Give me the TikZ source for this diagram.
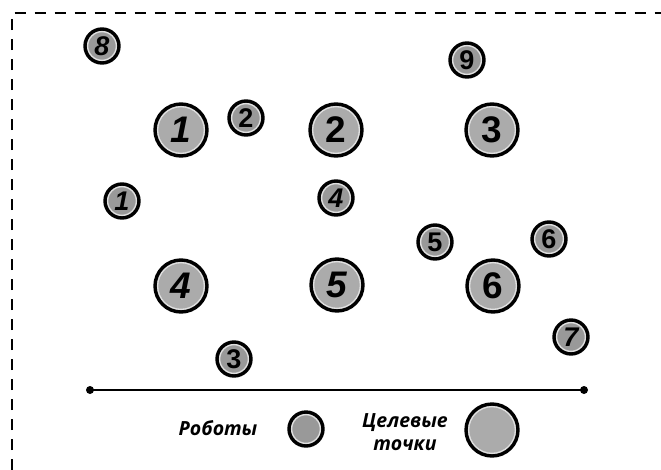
\documentclass[tikz,border=0pt]{standalone}
\usepackage{fontspec}
\setmainfont{Liberation Sans}
\newfontfamily\legendfont{Open Sans}
\begin{document}
\begin{tikzpicture}[x=1pt,y=-1pt,
  robotfill/.style={fill=black!40},
  goalfill/.style={fill=black!33},
  robot/.style={circle,draw=black,line width=3.4pt,robotfill,minimum size=34pt,inner sep=0pt,
    font=\bfseries\fontsize{27}{27}\selectfont,
    path picture={\draw[black!12,line width=1.4pt] (path picture bounding box.center) circle (14.4pt);}},
  goal/.style={circle,draw=black,line width=3.4pt,goalfill,minimum size=52pt,inner sep=0pt,
    font=\bfseries\fontsize{37}{37}\selectfont,
    path picture={\draw[black!12,line width=1.4pt] (path picture bounding box.center) circle (23.4pt);}},
  frameline/.style={line width=2pt,dash pattern=on 11pt off 9pt},
  baseline/.style={line width=2.4pt},
  enddot/.style={circle,fill=black,inner sep=0pt,minimum size=8pt},
  legendtext/.style={font=\legendfont\bfseries\itshape\fontsize{19.5}{23}\selectfont,align=center,inner sep=0pt}
]
\useasboundingbox (0,0) rectangle (661,469);

% dashed frame (continues past the right and bottom edges)
\begin{scope}
\clip (0,0) rectangle (661,469);
\draw[frameline] (11.5,490) -- (11.5,13) -- (680,13);
\end{scope}

% target points
\node[goal] (g1) at (181,130) {\itshape 1};
\node[goal] (g2) at (336,130) {2};
\node[goal] (g3) at (492,130) {3};
\node[goal] (g4) at (181,286) {\itshape 4};
\node[goal] (g5) at (337,285) {\itshape 5};
\node[goal] (g6) at (493,286) {6};

% robots
\node[robot] (r1) at (122,201) {\itshape 1};
\node[robot] (r2) at (246,118) {2};
\node[robot] (r3) at (234,359) {3};
\node[robot] (r4) at (336,198) {\itshape 4};
\node[robot] (r5) at (435,242) {5};
\node[robot] (r6) at (549,239) {6};
\node[robot] (r7) at (571,337) {\itshape 7};
\node[robot] (r8) at (102,46) {\itshape 8};
\node[robot] (r9) at (467,60) {9};

% separator line
\node[enddot] (la) at (90,390) {};
\node[enddot] (lb) at (584,390) {};
\draw[baseline] (la.center) -- (lb.center);

% legend
\node[legendtext] (tr) at (218,428) {Роботы};
\node[robot,font=\relax] (lr) at (306,429) {};
\node[legendtext] (tg) at (405,432) {Целевые\\точки};
\node[goal,font=\relax] (lg) at (492,430) {};
\end{tikzpicture}
\end{document}
